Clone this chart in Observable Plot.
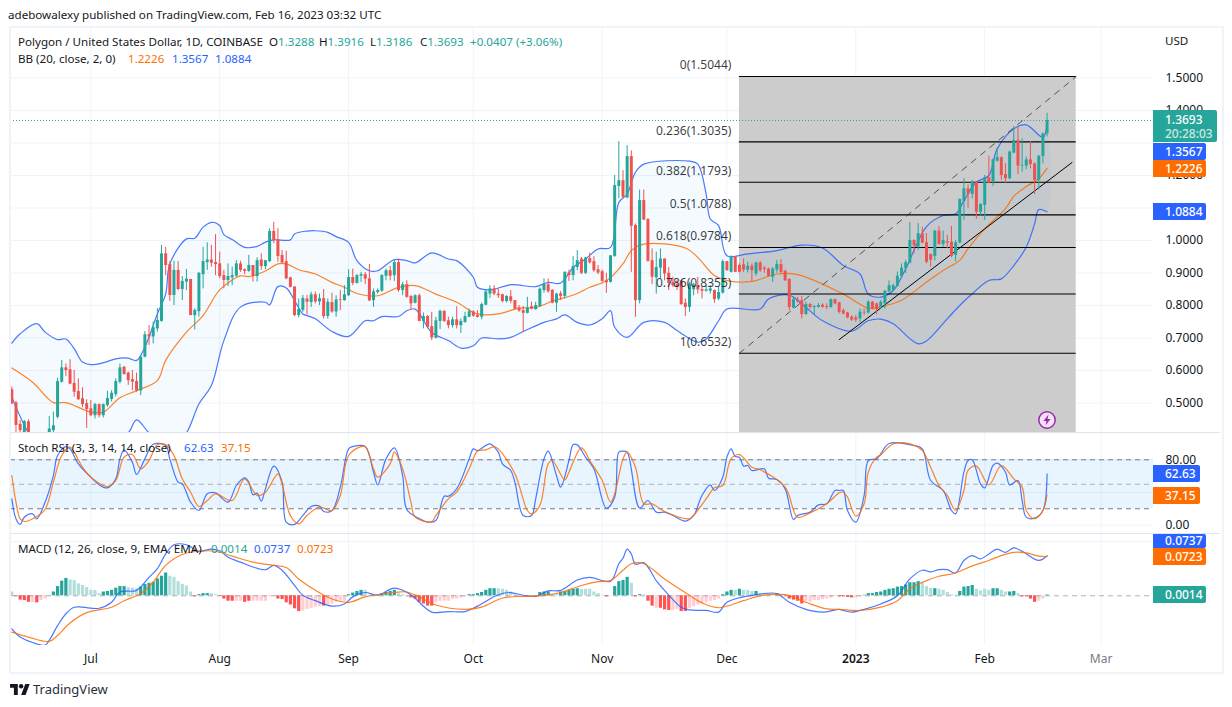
<!DOCTYPE html>
<html><head><meta charset="utf-8">
<script src="https://cdn.jsdelivr.net/npm/d3@7"></script>
<script src="https://cdn.jsdelivr.net/npm/@observablehq/plot@0.6"></script>
<style>
html,body{margin:0;background:#fff}
#page{position:relative;width:1232px;height:707px;overflow:hidden;font:11.6px "Noto Sans",sans-serif;color:#131722}
#page svg.pane{position:absolute;left:0}
.abs{position:absolute;white-space:pre}
.tag{position:absolute;left:1153px;color:#fff;text-align:left;box-sizing:border-box;padding-left:12px;border-radius:0 2px 2px 0;font-weight:500;font-size:12px}
.t{color:#26a69a}.b{color:#2962ff}.o{color:#ff6d00}
</style></head><body><div id="page"></div>
<script>
// Days are counted from 1 Jul 2022. Candles run daily from day -19 to day 230.
const firstCandleDay = -19;
const candleDirection =
"RRRGR"+"RGGR"+"GGGGRRRRRR"+"RGRGGGGGRR"+"RRGGRGGGRR"+"GRGGRGGGGR"+"RRRGGGRRGR"+"GRGGRRRRRR"+"GGRGRGRGRG"+"RGGRGGRRGG"+
"GGRGRGRRGR"+"GRRGGRRGRG"+"GGRRGGGRRR"+"GRRRRGRGGG"+"RRGRGRGGRG"+"RRRRRGGGRG"+"RRGRRRGGRR"+"RRRRGGRRGG"+"RGGRGRRRGR"+"GRRRGGRRRG"+
"RRGRGGRRGR"+"RRRRRGRGRR"+"GGGGGGGGRG"+"RRRGRGRRGG"+"GRGRGGRGGR"+"RGGRGGRRGG"+"G";
const bodyTop = [.541,.500,.434,.443,.442,
.400,.385,.395,.395,
.420,.430,.566,.608,.608,.602,.560,.535,.513,.498,
.482,.495,.495,.495,.514,.530,.566,.608,.610,.592,
.572,.566,.641,.710,.710,.732,.754,.959,.959,.926,
.908,.908,.874,.881,.880,.785,.899,.935,.940,.940,
.932,.928,.892,.889,.892,.928,.928,.910,.923,.923,
.938,.940,.938,1.028,1.028,1.002,.954,.935,.885,.857,
.788,.822,.820,.833,.833,.821,.821,.810,.809,.817,
.818,.833,.886,.886,.892,.895,.895,.882,.842,.846,
.892,.907,.907,.932,.932,.864,.864,.828,.830,.830,
.766,.766,.735,.753,.782,.782,.753,.756,.756,.751,
.766,.781,.780,.769,.803,.842,.851,.851,.835,.833,
.828,.827,.815,.792,.784,.792,.796,.800,.850,.866,
.864,.847,.835,.836,.902,.900,.920,.938,.943,.946,
.944,.935,.910,.904,.876,.953,1.169,1.184,1.184,1.258,
1.258,1.046,1.123,1.123,1.065,.938,.917,.943,.943,.899,
.871,.864,.876,.807,.866,.864,.861,.849,.848,.851,
.846,.840,.935,.935,.950,.950,.923,.925,.921,.921,
.931,.931,.915,.912,.912,.926,.926,.905,.880,.818,
.817,.815,.803,.803,.797,.800,.801,.797,.818,.818,
.808,.784,.777,.764,.762,.779,.779,.810,.810,.805,
.810,.844,.861,.861,.890,.915,.932,1.000,1.000,1.021,
1.021,.993,.957,1.029,1.029,1.000,.996,.995,.993,1.126,
1.159,1.159,1.180,1.180,1.111,1.193,1.193,1.248,1.255,1.255,
1.203,1.272,1.308,1.308,1.231,1.248,1.248,1.236,1.259,1.328,
1.3693];
const bodyBottom = [.497,.431,.415,.400,.400,
.380,.370,.380,.380,
.405,.415,.456,.564,.600,.558,.533,.510,.495,.480,
.461,.461,.461,.461,.492,.511,.526,.564,.588,.569,
.564,.537,.537,.641,.703,.703,.728,.751,.923,.831,
.831,.849,.849,.872,.769,.769,.781,.895,.932,.930,
.926,.889,.877,.877,.885,.890,.908,.905,.905,.889,
.889,.920,.920,.935,1.000,.951,.931,.882,.856,.769,
.769,.785,.810,.809,.811,.811,.766,.766,.780,.780,
.816,.815,.830,.868,.868,.890,.881,.814,.815,.840,
.844,.890,.890,.892,.846,.846,.825,.805,.807,.751,
.751,.733,.700,.699,.751,.751,.738,.738,.738,.738,
.748,.764,.767,.763,.764,.801,.835,.835,.830,.812,
.812,.813,.789,.783,.776,.776,.789,.787,.797,.846,
.842,.807,.807,.828,.828,.892,.892,.917,.899,.899,
.931,.907,.900,.874,.870,.871,.951,1.166,1.133,1.131,
1.044,.815,.815,1.063,.936,.887,.885,.915,.897,.868,
.861,.856,.803,.794,.794,.848,.848,.844,.844,.844,
.818,.820,.838,.907,.902,.902,.902,.909,.909,.907,
.897,.907,.911,.890,.887,.909,.902,.876,.794,.792,
.811,.772,.772,.794,.794,.794,.794,.794,.794,.805,
.779,.774,.762,.755,.755,.759,.777,.777,.789,.787,
.792,.805,.842,.846,.859,.889,.913,.931,.983,.980,
.992,.933,.939,.951,.988,.988,.992,.951,.954,.992,
1.120,1.142,1.142,1.087,1.087,1.108,1.177,1.180,1.244,1.200,
1.190,1.190,1.269,1.229,1.229,1.229,1.234,1.185,1.185,1.259,
1.3288];
const candleHigh = [.549,.505,.446,.446,.448,
.405,.395,.405,.405,
.458,.472,.576,.631,.620,.633,.600,.574,.547,.510,
.508,.499,.497,.497,.536,.538,.574,.620,.612,.595,
.600,.592,.646,.720,.738,.749,.790,.985,.979,.935,
.936,.935,.889,.911,.880,.790,.902,.979,.993,.985,
1.018,.964,.908,.928,.918,.938,.936,.913,.954,.923,
.947,.959,.938,1.036,1.056,1.036,.969,.967,.887,.857,
.820,.831,.831,.841,.841,.835,.849,.820,.838,.830,
.846,.861,.910,.912,.895,.902,.902,.926,.851,.851,
.895,.912,.920,.938,.943,.871,.876,.830,.833,.835,
.777,.769,.779,.764,.786,.784,.764,.764,.796,.759,
.779,.789,.784,.784,.807,.846,.861,.861,.851,.835,
.830,.846,.815,.800,.797,.825,.810,.810,.854,.882,
.882,.848,.838,.843,.904,.909,.950,.969,.948,.948,
.961,.950,.923,.909,.899,.953,1.200,1.304,1.215,1.292,
1.276,1.051,1.155,1.155,1.066,.974,.964,.974,.943,.917,
.887,.876,.876,.820,.871,.868,.887,.856,.861,.861,
.848,.856,.940,.935,.953,.950,.928,.943,.933,.928,
.933,.936,.920,.915,.917,.938,.941,.909,.882,.822,
.825,.828,.810,.807,.800,.807,.805,.805,.820,.820,
.810,.789,.779,.769,.769,.789,.789,.815,.813,.807,
.815,.846,.876,.866,.903,.928,.939,1.055,1.002,1.052,
1.041,1.021,.959,1.031,1.043,1.029,1.016,1.043,1.000,1.128,
1.190,1.172,1.185,1.180,1.113,1.200,1.259,1.251,1.284,1.257,
1.236,1.275,1.351,1.347,1.313,1.257,1.305,1.238,1.262,1.331,
1.3916];
const candleLow = [.495,.405,.400,.385,.380,
.370,.360,.370,.370,
.385,.408,.451,.561,.581,.556,.518,.508,.485,.422,
.458,.451,.454,.454,.487,.503,.518,.559,.585,.554,
.538,.533,.523,.639,.677,.682,.718,.749,.892,.813,
.800,.846,.815,.846,.769,.725,.764,.851,.908,.918,
.892,.882,.851,.858,.861,.887,.902,.895,.902,.872,
.872,.908,.910,.932,.990,.933,.928,.879,.854,.766,
.762,.779,.771,.794,.805,.800,.758,.758,.776,.764,
.784,.813,.828,.861,.866,.871,.864,.812,.794,.835,
.841,.876,.876,.874,.841,.830,.822,.784,.805,.750,
.728,.728,.692,.697,.726,.748,.728,.731,.728,.714,
.745,.762,.764,.762,.756,.799,.822,.830,.822,.808,
.808,.805,.786,.779,.717,.774,.787,.786,.794,.838,
.838,.805,.779,.815,.820,.874,.876,.907,.895,.895,
.928,.902,.895,.872,.837,.869,.948,1.128,1.128,1.128,
.902,.764,.805,1.061,.933,.864,.835,.882,.876,.846,
.856,.846,.800,.766,.779,.830,.835,.820,.841,.835,
.807,.815,.835,.905,.900,.902,.900,.902,.900,.874,
.890,.902,.899,.887,.871,.899,.897,.874,.784,.789,
.807,.759,.769,.789,.771,.792,.792,.787,.791,.802,
.774,.771,.759,.751,.748,.748,.769,.774,.786,.772,
.789,.789,.839,.843,.857,.887,.898,.928,.959,.969,
.990,.928,.918,.937,.985,.980,.975,.947,.934,.990,
1.062,1.098,1.128,1.065,1.077,1.062,1.175,1.166,1.241,1.185,
1.175,1.187,1.267,1.203,1.210,1.218,1.221,1.141,1.156,1.236,
1.3186];

const bbUpperDays = [-19,-17,-13,-11,-8,-6,-4,-2,0,3,6,9,11,13,16,18,19,23,25,27,29,31,32,34,37,40,42,44,48,49,52,54,57,59,62,64,67,69,73,76,78,82,86,88,92,93,96,101,107,110,113,116,119,122,125,127,129,131,133,144,146,148,149,151,153,158,165,171,176,181,185,187,190,193,196,201,205,208,210,213,216,218,222,225,229,230];
const bbUpper = [.684,.713,.744,.718,.695,.697,.667,.626,.618,.624,.636,.638,.631,.672,.774,.836,.928,1.005,1.007,1.041,1.056,1.046,1.018,1.003,.979,.982,.995,1.002,1.002,1.020,1.029,1.030,1.025,1.012,.994,.938,.907,.907,.941,.938,.931,.962,.943,.938,.887,.856,.848,.864,.858,.871,.869,.917,.943,.974,.979,1.117,1.143,1.210,1.235,1.244,1.235,1.143,1.066,1.046,.953,.959,.969,.986,.977,.923,.897,.835,.826,.846,.913,1.043,1.077,1.082,1.122,1.180,1.200,1.282,1.344,1.356,1.318,1.3567];
const bbMidDays = [-19,-14,-11,-9,-6,0,3,7,11,16,18,23,27,31,36,38,42,45,47,50,54,58,61,64,69,74,78,83,88,93,98,103,107,111,117,120,124,128,130,133,143,146,150,154,159,165,170,181,187,190,195,201,205,209,211,215,220,222,225,228,230];
const bbMid = [.608,.564,.523,.501,.501,.472,.472,.516,.538,.569,.631,.718,.769,.848,.891,.889,.906,.928,.928,.910,.897,.871,.856,.837,.830,.856,.861,.835,.810,.774,.774,.792,.794,.813,.837,.856,.876,.928,.969,.989,.977,.948,.892,.874,.874,.897,.895,.835,.792,.796,.816,.872,.908,.939,.975,1.036,1.098,1.136,1.166,1.190,1.2226];
const bbLowerDays = [-19,-15,-12,-8,-4,0,4,9,11,14,17,20,23,26,29,32,36,42,43,45,47,49,51,52,54,58,62,66,68,70,74,76,78,82,86,89,92,94,98,101,104,109,112,114,117,120,123,125,126,129,133,138,141,146,148,151,153,161,163,168,172,176,183,187,190,193,197,199,201,206,209,212,216,219,222,225,227,228,230];
const bbLower = [.518,.408,.360,.330,.330,.340,.370,.408,.448,.408,.380,.370,.408,.497,.554,.692,.795,.810,.802,.858,.854,.815,.774,.769,.759,.720,.705,.753,.753,.766,.766,.784,.789,.717,.692,.669,.676,.700,.697,.702,.720,.748,.759,.771,.748,.740,.759,.784,.733,.702,.748,.748,.723,.687,.697,.753,.789,.789,.820,.832,.794,.753,.721,.753,.758,.744,.698,.682,.691,.759,.800,.836,.877,.882,.923,.980,1.051,1.095,1.0884];

const fibLevels = [1.5044,1.3035,1.1793,1.0788,.9784,.8355,.6532];
const fibRatios = ["0","0.236","0.382","0.5","0.618","0.786","1"];
const fibStartDay = 156, fibEndDay = 237;
const trendDays = [180,236], trendPrices = [.695,1.24];
const lastClose = 1.3693;
const priceGrid = [.5,.6,.7,.8,.9,1,1.1,1.2,1.3,1.4,1.5];
const priceLabels = [.5,.6,.7,.8,.9,1,1.2,1.4,1.5];

const stochKDays = [-19,-18,-17,-16,-14,-13,-11,-9,-8,-6,-5,-3,0,2,4,6,7,8,10,11,13,15,18,19,21,22,24,26,28,30,33,35,37,38,39,40,41,42,44,46,47,49,51,53,55,56,58,60,62,63,66,68,69,71,73,75,76,79,81,83,85,86,88,91,92,93,96,98,99,101,102,104,106,107,109,110,112,113,115,116,117,119,121,124,126,127,128,129,132,134,136,138,140,143,145,147,149,150,152,153,154,155,156,157,158,159,162,163,165,167,169,170,173,175,177,179,180,181,182,184,186,187,189,190,192,198,200,202,205,207,208,210,211,212,214,215,217,218,220,221,223,224,225,227,229,230];
const stochK = [32.2,7.7,.8,9.7,13.8,7.7,28.1,60.7,85.2,96.2,93.4,75,58.7,49.3,45.6,56.7,81.1,92.2,77.1,62,81.1,99,97.5,81.1,52.6,50.5,28.1,17.9,38.3,39.5,28.1,48.5,57.9,52.6,37.1,39.1,29.3,44.4,72.2,52.6,3.6,.8,11.8,22.8,23.2,16.7,17.9,46.5,93.4,96.2,96.2,64.8,49.3,81.1,94.6,60.7,19.1,8,3.6,5.7,35.4,35.4,44.4,81.1,93.4,91.3,99.5,89.3,75,66.9,52.6,11.8,11.8,32.2,81.1,90.5,60.7,46.5,79.1,98.3,98.3,83.2,68.9,20.8,34.2,89.3,90.5,89.3,20.8,30.1,15.9,15.9,11.8,4.8,11.8,36.3,49.3,42.4,58.7,83.2,93.4,84,83.2,72.2,73,66.9,68.9,57.5,55.8,44.4,6.9,11.8,15.9,24.8,26.1,42.4,42.4,42.4,17.9,3.6,36.3,79.1,81.1,87.3,100,97.5,93.4,54.6,42.4,17.9,13.8,64.8,79.1,79.9,50.5,45.6,73,75.8,64.8,49.3,54.6,30.1,9.7,8.5,17.9,62.63];
const stochDDays = [-19,-18,-17,-16,-13,-11,-9,-7,-5,-4,-2,0,4,6,8,10,12,14,16,18,20,22,24,26,28,30,34,37,40,42,45,46,48,50,52,55,58,60,62,65,66,68,69,72,73,75,77,78,82,83,86,88,91,93,95,97,98,102,105,106,108,110,111,114,115,118,120,123,125,126,128,129,131,133,135,138,144,145,148,150,152,154,156,159,161,167,170,173,177,180,181,182,184,186,187,189,190,193,197,200,202,204,206,208,210,211,213,216,219,222,224,225,227,229,230];
const stochD = [60.7,28.1,7.7,4.4,10.6,19.1,52.6,85.2,95.4,89.3,70.9,58.7,47.3,54.6,83.2,86.4,68.9,79.1,98.3,98.3,85.2,56.7,40.3,22.8,30.1,38.3,30.1,56.7,36.3,40.3,62.8,50.5,11.8,1.6,11.8,22,17.9,36.3,85.2,96.2,96.2,68.9,58.7,75,89.3,68.9,28.1,9.7,4.4,11.8,32.2,40.3,68.9,90.5,92.2,96.2,93.4,62.8,17.9,13.8,24,75,79.1,55.4,64.8,94.6,79.1,54.6,28.1,38.3,81.1,89.3,70.9,26.1,26.1,16.7,7.7,11.8,32.2,45.6,48.5,81.1,86.4,70.9,67.7,46.5,9.7,15,26.1,39.5,40.3,34.2,11,26.1,64.8,83.2,86,99.5,99.5,91.3,70.9,48.5,36.3,17.9,42.4,66.9,72.2,49.3,73,56.7,46.5,17.9,7.7,17.9,37.15];

const macdDays = [-19,-17,-14,-11,-10,-8,-6,-4,-2,2,5,7,11,14,16,18,20,23,26,29,31,33,36,39,42,44,46,49,51,54,58,61,63,66,69,73,77,79,82,86,90,93,98,101,104,107,110,113,117,120,125,127,128,129,130,131,133,136,138,142,144,148,151,153,160,165,168,172,176,180,181,183,186,190,194,197,200,202,204,206,208,210,212,214,216,218,220,222,224,228,230];
const macdLine = [-.061,-.076,-.086,-.091,-.082,-.055,-.033,-.021,-.021,-.023,-.012,.007,.010,.034,.050,.077,.094,.094,.082,.086,.083,.071,.062,.053,.048,.056,.047,.019,.001,-.009,-.019,-.015,-.002,.006,.001,.014,.002,-.012,-.030,-.029,-.029,-.019,.002,.006,.001,-.001,.009,.010,.029,.034,.027,.059,.069,.086,.077,.058,.061,.028,.010,-.021,-.026,-.027,-.030,-.012,.002,.004,-.012,-.025,-.030,-.025,-.027,-.030,-.025,-.015,0,.031,.047,.044,.048,.048,.042,.065,.074,.068,.077,.086,.080,.088,.082,.065,.0737];
const signalDays = [-19,-15,-10,-8,-5,-1,5,8,12,15,18,22,26,30,34,39,44,47,50,54,58,62,66,73,76,79,83,90,94,99,104,108,113,118,122,125,128,130,133,138,144,147,151,157,161,167,172,177,180,185,190,194,197,201,204,208,212,216,219,222,225,228,230];
const signalLine = [-.067,-.076,-.084,-.073,-.050,-.031,-.021,-.009,.004,.025,.056,.076,.082,.082,.073,.062,.056,.052,.031,.010,-.006,-.012,-.002,.006,.007,-.002,-.017,-.025,-.021,-.004,-.001,0,.006,.019,.026,.028,.047,.059,.059,.031,.001,-.013,-.022,-.009,0,.002,-.012,-.024,-.025,-.027,-.021,-.009,.013,.028,.036,.042,.055,.065,.074,.080,.079,.073,.0723];
const histValues = [.007,-.002,-.008,-.009,-.012,
-.013,-.013,-.009,-.006,-.001,
.007,.017,.027,.032,.029,.028,.022,.019,.015,
.010,.010,.004,.007,.008,.010,.014,.017,.017,.015,
.014,.013,.016,.021,.023,.025,.031,.036,.042,.036,
.034,.026,.021,.018,.007,-.002,.002,.004,.004,.004,
.002,-.001,-.006,-.010,-.010,-.010,-.010,-.012,-.010,-.010,
-.010,-.010,-.010,-.002,-.001,-.006,-.007,-.013,-.017,-.024,
-.029,-.028,-.025,-.023,-.021,-.020,-.019,-.017,-.015,-.012,
-.010,-.010,.002,.005,.008,.010,.010,.001,.0005,.002,
.004,.006,.008,.010,.004,.002,-.002,-.004,-.006,-.012,
-.015,-.019,-.019,-.012,-.010,-.010,-.010,-.007,-.006,-.004,
-.002,.002,.002,.004,.006,.010,.013,.013,.013,.012,
.010,.007,.002,.001,.0005,-.001,-.001,-.001,.006,.007,
.007,.002,.004,.007,.008,.010,.012,.013,.012,.012,
.012,.007,.004,.001,-.002,-.001,.017,.026,.028,.034,
.023,-.002,.002,.001,-.010,-.019,-.023,-.023,-.026,-.027,
-.027,-.025,-.029,-.029,-.023,-.020,-.017,-.015,-.013,-.010,
-.009,-.006,.002,.007,.010,.010,.012,.010,.010,.008,
.008,.004,.003,.003,.002,.004,.001,-.002,-.006,-.008,
-.010,-.015,-.010,-.012,-.009,-.009,-.007,-.006,-.004,-.001,
-.002,-.002,-.003,-.004,-.004,-.002,.001,.004,.004,.006,
.007,.010,.012,.013,.016,.017,.020,.024,.024,.026,
.025,.017,.014,.013,.012,.010,.006,.002,.001,.008,
.016,.017,.019,.012,.009,.012,.010,.013,.013,.010,
.007,.007,.008,.004,-.002,-.002,-.006,-.012,-.010,-.006,
.0014];
const histClass =
"LRRRR"+"PRPPP"+"DDDDLLLLL"+"LLLDDDDDDL"+"LLDDDDDDDL"+"LLLLLRDDDL"+"LRRRRPPRRP"+"PPPPPRRRRR"+"RPPPPPRPPP"+"PPDDDDLLLL"+
"DDDDLLPRRR"+"RRRPPPPPPP"+"PDDDDDDDLL"+"LLLLLPPPDD"+"DLLDDDDDLL"+"LLLLRPDDDD"+"LRDLRRPRRR"+"PPRRPPPPPP"+"PPDDDLDLLL"+"DLLLLDLPRR"+
"RRPPPPPPPP"+"RRRRPPDDDD"+"DDDDDDDDDD"+"LLLDLLLLLD"+"DDDLLLLDDL"+"LDDLRRRRPP"+"D";
const monthDays = [0,31,62,92,123,153,215];
const monthLabels = ["Jul","Aug","Sep","Oct","Nov","Dec","Feb"];
const yearDay = 184, yearLabel = "2023";
const futureMonthDay = 243, futureMonthLabel = "Mar";

const day = d => new Date(Date.UTC(2022,6,1) + d*864e5);
const xDomain = [day(-19.32), day(255.6)];
const FONT = '"Noto Sans",sans-serif';
const GRID = "#f0f3fa", UP = "#26a69a", DOWN = "#ef5350", BLUE = "#2962ff", ORANGE = "#ff6d00";
const CURVE = "catmull-rom";
const pts = (ds, vs) => ds.map((d,i) => ({x: day(d), y: vs[i]}));
const allMonths = [...monthDays, yearDay, futureMonthDay].map(day);
const baseX = {type:"utc", domain:xDomain, axis:null};
const base = h => ({width:1232, height:h, marginLeft:10, marginRight:79, marginTop:0, marginBottom:0,
  style:{background:"transparent", fontFamily:FONT, fontSize:"12px", color:"#131722"}});
const page = document.getElementById("page");
function mount(svg, top){ svg.classList.add("pane"); svg.style.position="absolute"; svg.style.top=top+"px"; svg.style.left="0"; page.appendChild(svg); }
const lineOpts = (col,extra={}) => ({x:"x",y:"y",stroke:col,strokeWidth:1.2,strokeOpacity:.85,curve:CURVE,clip:true,...extra});

// Price pane
const candles = bodyTop.map((t,i) => {
  const up = candleDirection[i] === "G";
  return {date: day(firstCandleDay+i), open: up ? bodyBottom[i] : t, close: up ? t : bodyBottom[i], high: candleHigh[i], low: candleLow[i], up};
});
const bandOutline = [...pts(bbUpperDays,bbUpper), ...pts(bbLowerDays,bbLower).reverse()];
const ups = candles.filter(d=>d.up), downs = candles.filter(d=>!d.up);
const fibRows = fibLevels.map((v,i)=>({v, label:`${fibRatios[i]}(${v.toFixed(4)})`}));
mount(Plot.plot({...base(405),
  x: baseX,
  y: {domain:[.4092,1.6554], range:[405,0], axis:null},
  marks:[
    Plot.ruleX(allMonths,{stroke:GRID}),
    Plot.ruleY(priceGrid,{stroke:GRID}),
    Plot.rect([0],{x1:()=>day(fibStartDay),x2:()=>day(fibEndDay),y1:()=>fibLevels[0],y2:()=>.4092,fill:"#cccccc"}),
    Plot.line(bandOutline,{x:"x",y:"y",fill:"#2196f3",fillOpacity:.05,stroke:"none",curve:CURVE,clip:true}),
    Plot.line(pts(bbUpperDays,bbUpper),lineOpts(BLUE)),
    Plot.line(pts(bbLowerDays,bbLower),lineOpts(BLUE)),
    Plot.line(pts(bbMidDays,bbMid),lineOpts(ORANGE)),
    Plot.ruleY(fibLevels,{x1:()=>day(fibStartDay),x2:()=>day(fibEndDay),stroke:"#000",strokeWidth:1.1}),
    Plot.line([{x:day(fibStartDay),y:fibLevels[6]},{x:day(fibEndDay),y:fibLevels[0]}],{x:"x",y:"y",stroke:"#333",strokeWidth:.8,strokeDasharray:"6,6"}),
    Plot.line(pts(trendDays,trendPrices),{x:"x",y:"y",stroke:"#000",strokeWidth:1}),
    Plot.ruleX(ups,{x:"date",y1:"low",y2:"high",stroke:UP,strokeWidth:1,clip:true}),
    Plot.ruleX(downs,{x:"date",y1:"low",y2:"high",stroke:DOWN,strokeWidth:1,clip:true}),
    Plot.ruleX(ups,{x:"date",y1:"open",y2:"close",stroke:UP,strokeWidth:3,clip:true}),
    Plot.ruleX(downs,{x:"date",y1:"open",y2:"close",stroke:DOWN,strokeWidth:3,clip:true}),
    Plot.ruleY([lastClose],{stroke:UP,strokeDasharray:"1,2"}),
    Plot.text(fibRows,{x:()=>day(fibStartDay),y:"v",text:"label",textAnchor:"end",dx:-8,dy:-11,fill:"#131722",fillOpacity:.85,fontSize:12}),
    Plot.axisY(priceLabels,{anchor:"right",tickSize:0,tickPadding:12,tickFormat:d3.format(".4f"),label:null,fill:"#131722",fontSize:12})
  ]}),27);

// Stoch RSI pane
mount(Plot.plot({...base(100),
  x: baseX,
  y: {domain:[-10.3,112.2], range:[100,0], axis:null},
  marks:[
    Plot.ruleX(allMonths,{stroke:GRID}),
    Plot.ruleY([0,40,80],{stroke:GRID}),
    Plot.rect([0],{x1:()=>xDomain[0],x2:()=>xDomain[1],y1:()=>20,y2:()=>80,fill:"#2196f3",fillOpacity:.1}),
    Plot.ruleY([80,20],{stroke:"#787b86",strokeDasharray:"5,4"}),
    Plot.ruleY([50],{stroke:"#787b86",strokeOpacity:.55,strokeDasharray:"5,4"}),
    Plot.line(pts(stochKDays,stochK),lineOpts(BLUE)),
    Plot.line(pts(stochDDays,stochD),lineOpts(ORANGE)),
    Plot.axisY([0,80],{anchor:"right",tickSize:0,tickPadding:12,tickFormat:d3.format(".2f"),label:null,fill:"#131722",fontSize:12})
  ]}),433);

// MACD pane
const hist = histValues.map((v,i)=>({date:day(firstCandleDay+i),v,c:histClass[i]}));
const histColours = {D:UP,L:"#b2dfdb",R:"#ff5252",P:"#ffcdd2"};
mount(Plot.plot({...base(137), marginBottom:26,
  x: baseX,
  y: {domain:[-.0915,.1128], axis:null},
  marks:[
    Plot.ruleX(allMonths,{stroke:GRID}),
    Plot.ruleY([.1],{stroke:GRID}),
    ...Object.entries(histColours).map(([k,col]) =>
      Plot.ruleX(hist.filter(d=>d.c===k),{x:"date",y1:()=>0,y2:"v",stroke:col,strokeWidth:3.2})),
    Plot.ruleY([0],{stroke:"#787b86",strokeOpacity:.6,strokeDasharray:"5,4"}),
    Plot.line(pts(macdDays,macdLine),lineOpts(BLUE)),
    Plot.line(pts(signalDays,signalLine),lineOpts(ORANGE)),
    Plot.axisX(monthDays.map(day),{anchor:"bottom",tickSize:0,tickPadding:9,label:null,fill:"#131722",fontSize:12,
      tickFormat:d=>monthLabels[monthDays.findIndex(m=>+day(m)===+d)]}),
    Plot.axisX([day(yearDay)],{anchor:"bottom",tickSize:0,tickPadding:9,label:null,fill:"#131722",fontSize:12,fontWeight:600,
      tickFormat:()=>yearLabel}),
    Plot.axisX([day(futureMonthDay)],{anchor:"bottom",tickSize:0,tickPadding:9,label:null,fill:"#787b86",fontSize:12,
      tickFormat:()=>futureMonthLabel})
  ]}),534);

// Frame, legends, price tags
function abs(html, left, top, extra=""){ const d=document.createElement("div"); d.className="abs"; d.style.cssText=`left:${left}px;top:${top}px;${extra}`; d.innerHTML=html; page.appendChild(d); return d; }
function tag(lines, top, h, w, col){ const d=document.createElement("div"); d.className="tag";
  const two = lines.length>1;
  d.style.cssText=`top:${top}px;height:${h}px;width:${w}px;background:${col};line-height:${two?14:h}px;${two?"padding-top:3px;":""}`;
  d.innerHTML=lines.map((t,i)=>`<div style="${i?'opacity:.75':''}">${t}</div>`).join(""); page.appendChild(d); }
abs("",9,26,"width:1211px;height:644px;border:2px solid #f0f3fa;");
abs("",11,432,"width:1209px;height:1px;background:#e0e3eb");
abs("",11,533,"width:1209px;height:1px;background:#e0e3eb");
abs("adebowalexy published on TradingView.com, Feb 16, 2023 03:32 UTC",8,7);
abs('Polygon / United States Dollar, 1D, COINBASE',18,34);
abs('O<span class="t">1.3288</span>',269,34);
abs('H<span class="t">1.3916</span>',319,34);
abs('L<span class="t">1.3186</span>',370,34);
abs('C<span class="t">1.3693</span>',420,34);
abs('<span class="t">+0.0407 (+3.06%)</span>',470,34);
abs('BB (20, close, 2, 0)',18,51);
abs('<span class="o">1.2226</span>',128,51);
abs('<span class="b">1.3567</span>',172,51);
abs('<span class="b">1.0884</span>',215,51);
abs('Stoch RSI (3, 3, 14, 14, close)',18,440);
abs('<span class="b">62.63</span>',184,440);
abs('<span class="o">37.15</span>',221,440);
abs('MACD (12, 26, close, 9, EMA, EMA)',18,541);
abs('<span class="t">0.0014</span>',211,541);
abs('<span class="b">0.0737</span>',254,541);
abs('<span class="o">0.0723</span>',297,541);
abs("USD",1165,33);
tag(["1.3693","20:28:03"],110,32,64,UP);
tag(["1.3567"],143,17,53,BLUE);
tag(["1.2226"],160,17,53,ORANGE);
tag(["1.0884"],203,17,53,BLUE);
tag(["62.63"],465,17,47,BLUE);
tag(["37.15"],487,17,47,ORANGE);
tag(["0.0737"],534,14,53,BLUE);
tag(["0.0723"],548,17,53,ORANGE);
tag(["0.0014"],586,17,53,UP);
abs('<svg width="20" height="20" viewBox="0 0 20 20" style="display:block"><circle cx="10" cy="10" r="8.2" fill="#f3e5f5" stroke="#9c27b0" stroke-width="1.5"/><path d="M11.5 4.5 6.5 11h3l-1 4.5 5-6.5h-3z" fill="#9c27b0"/></svg>',1037,410);
abs('<svg width="20" height="11" viewBox="0 0 36 20" preserveAspectRatio="none" style="display:block"><path d="M14 20H7V7H0V0h14zM28 20h-8L27.5 0h8z" fill="#131722"/><circle cx="20" cy="4" r="4" fill="#131722"/></svg>',10,684);
abs("TradingView",33,680,"font-size:13px;color:#2a2e39");
</script></body></html>
